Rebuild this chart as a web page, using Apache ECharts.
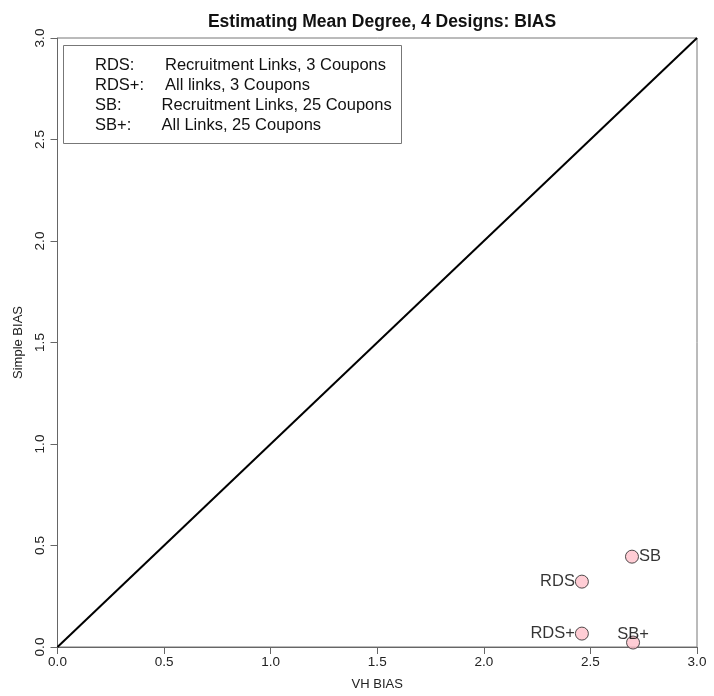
<!DOCTYPE html>
<html><head><meta charset="utf-8">
<script src="https://cdn.jsdelivr.net/npm/echarts@6/dist/echarts.min.js"></script>
<style>html,body{margin:0;padding:0;background:#fff}#c{width:714px;height:696px}</style>
</head><body><div id="c"></div>
<script>
const title = 'Estimating Mean Degree, 4 Designs: BIAS';
const xName = 'VH BIAS';
const yName = 'Simple BIAS';
const designs = ['RDS', 'RDS+', 'SB', 'SB+'];
const vhBias = [2.46, 2.46, 2.695, 2.70];
const simpleBias = [0.322, 0.066, 0.445, 0.022];
const labelPos = ['left', 'left', 'right', 'top'];
const legendKeys = ['RDS:', 'RDS+:', 'SB:', 'SB+:'];
const legendDesc = ['Recruitment Links, 3 Coupons', 'All links, 3 Coupons', 'Recruitment Links, 25 Coupons', 'All Links, 25 Coupons'];
const ticks = [0, 0.5, 1, 1.5, 2, 2.5, 3];

const chart = echarts.init(document.getElementById('c'), null, {renderer: 'canvas'});
const FONT = 'Liberation Sans, Arial, sans-serif';
const descX = [165, 165, 161.5, 161.5];
const legendGraphics = [{
  type: 'rect', shape: {x: 63.5, y: 45.5, width: 338, height: 98},
  style: {fill: '#fff', stroke: '#777', lineWidth: 1}, z: 10
}];
legendKeys.forEach((k, i) => {
  legendGraphics.push({type: 'text', x: 95, y: 65 + i * 20.2, z: 11,
    style: {text: k, fill: '#111', font: '16.5px ' + FONT, verticalAlign: 'middle'}});
  legendGraphics.push({type: 'text', x: descX[i], y: 65 + i * 20.2, z: 11,
    style: {text: legendDesc[i], fill: '#111', font: '16.5px ' + FONT, verticalAlign: 'middle'}});
});

const axisCommon = {
  type: 'value', min: 0, max: 3, interval: 0.5,
  axisLine: {show: true, onZero: false, lineStyle: {color: '#666', width: 1}},
  axisTick: {show: true, inside: false, length: 7, lineStyle: {color: '#666'}},
  splitLine: {show: false},
  axisLabel: {color: '#222', fontSize: 13.5, fontFamily: FONT, formatter: v => v.toFixed(1)},
  nameLocation: 'middle',
  nameTextStyle: {color: '#222', fontSize: 13, fontFamily: FONT}
};

chart.setOption({
  animation: false,
  title: {text: title, left: 377, textAlign: 'center', top: 8,
    textStyle: {fontSize: 17.5, fontWeight: 'bold', color: '#111', fontFamily: FONT}},
  grid: {left: 57.5, right: 17, top: 38, bottom: 48.5, show: true, borderColor: '#777', borderWidth: 1, backgroundColor: 'transparent'},
  xAxis: Object.assign({}, axisCommon, {name: xName, nameGap: 31,
    axisLabel: Object.assign({}, axisCommon.axisLabel, {margin: 8})}),
  yAxis: Object.assign({}, axisCommon, {name: yName, nameGap: 33,
    axisLabel: Object.assign({}, axisCommon.axisLabel, {rotate: 90, margin: 10})}),
  graphic: legendGraphics,
  series: [
    {type: 'line', data: [[0, 0], [3, 3]], symbol: 'none', silent: true,
      lineStyle: {color: '#000', width: 2}, z: 2},
    {type: 'scatter', symbol: 'circle', symbolSize: 13, z: 5,
      data: designs.map((d, i) => ({value: [vhBias[i], simpleBias[i]], name: d,
        label: {show: true, position: labelPos[i], formatter: d, distance: labelPos[i] === 'top' ? -7 : 0,
          fontSize: 16.5, color: '#000', fontFamily: FONT}})),
      itemStyle: {color: '#FFC0CB', borderColor: '#222', borderWidth: 1}}
  ]
});
</script></body></html>
